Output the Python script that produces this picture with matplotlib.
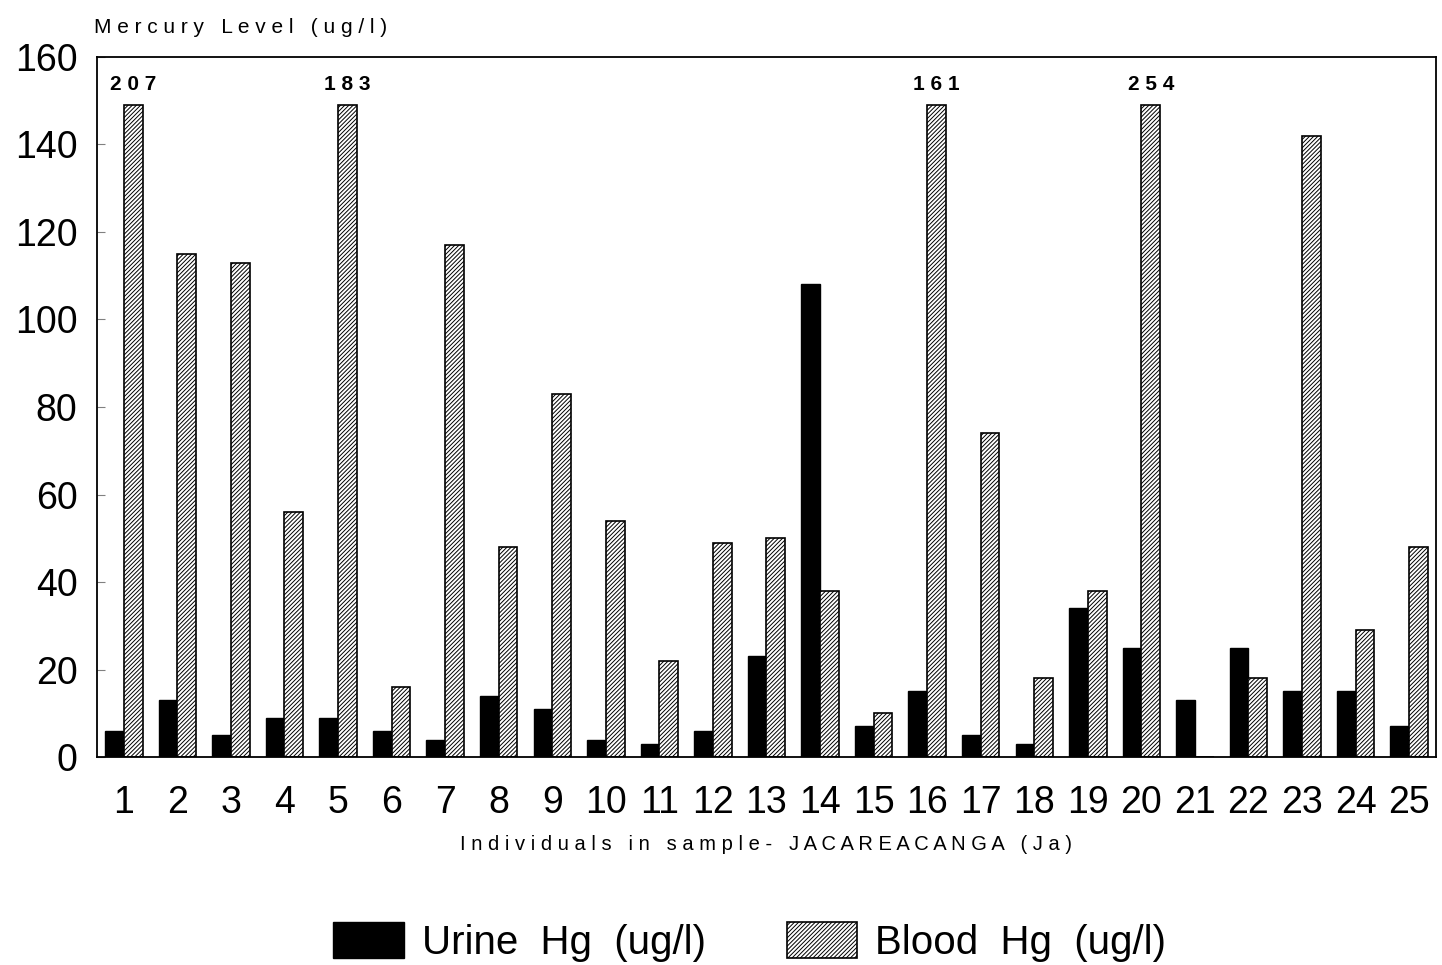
import matplotlib.pyplot as plt
import numpy as np

plt.rcParams['font.family'] = ['Liberation Sans', 'DejaVu Sans']
plt.rcParams['hatch.linewidth'] = 0.7

individuals = list(range(1, 26))
urine = [6, 13, 5, 9, 9, 6, 4, 14, 11, 4, 3, 6, 23, 108, 7, 15, 5, 3, 34, 25, 13, 25, 15, 15, 7]
# blood values above the axis are cut at 149 and written on top
blood = [207, 115, 113, 56, 183, 16, 117, 48, 83, 54, 22, 49, 50, 38, 10, 161, 74, 18, 38, 254, 0, 18, 142, 29, 48]
cap = 149

x = np.array(individuals)
w = 0.35
blood_drawn = [min(b, cap) for b in blood]

fig = plt.figure(figsize=(14.42, 9.65), dpi=100)
ax = fig.add_axes([0.0673, 0.2155, 0.9285, 0.7255])

ax.bar(x - w / 2, urine, w, color="black", edgecolor="black", label="Urine  Hg  (ug/l)")
ax.bar(x + w / 2, blood_drawn, w, color="white", edgecolor="black", hatch="////////",
       linewidth=1.2, label="Blood  Hg  (ug/l)")

for xi, b in zip(x, blood):
    if b > cap:
        ax.text(xi + w / 2, cap + 2.5, " ".join(str(b)), ha="center", va="bottom",
                fontsize=15, fontweight="bold")

ax.set_xlim(0.5, 25.5)
ax.set_ylim(0, 160)
ax.set_yticks(range(0, 161, 20))
ax.set_xticks(x)
ax.set_xticklabels([str(i) for i in individuals], fontsize=27)
ax.tick_params(axis="y", labelsize=27, direction="in", length=6, color="gray", pad=14)
ax.tick_params(axis="x", length=0, pad=20)
for s in ax.spines.values():
    s.set_linewidth(1.3)

ax.set_xlabel("I n d i v i d u a l s   i n   s a m p l e -   J A C A R E A C A N G A   ( J a )",
              fontsize=14.5, labelpad=10)
fig.text(0.065, 0.972, "M e r c u r y   L e v e l   ( u g / l )", fontsize=15,
         ha="left", va="center")

fig.legend(loc="center", bbox_to_anchor=(0.52, 0.024), ncol=2, frameon=False,
           fontsize=29, handlelength=1.75, handleheight=1.0, columnspacing=2.0,
           handletextpad=0.45)

fig.savefig("out.png", dpi=100)
